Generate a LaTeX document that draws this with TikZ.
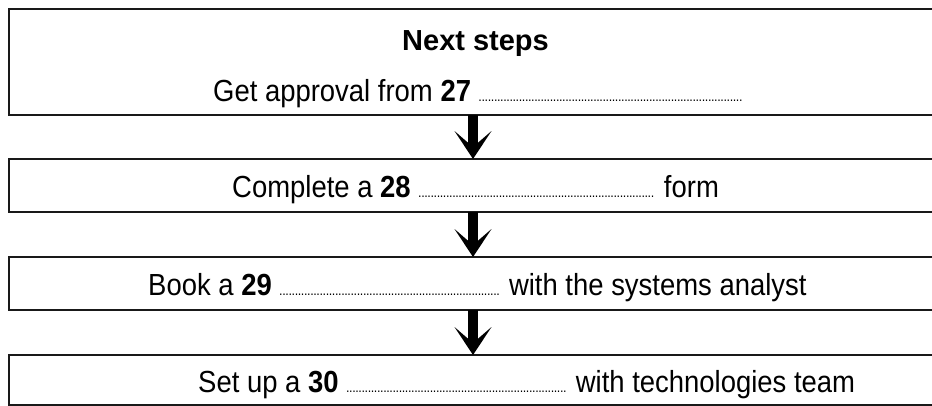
\documentclass[tikz,border=0pt]{standalone}
\usepackage{fontspec}
\setmainfont[FakeStretch=0.9]{Liberation Sans}
\newfontfamily\headfont{Liberation Sans}
\usetikzlibrary{arrows.meta}
\newcommand{\dotsline}[1]{\hbox to #1pt{\fontsize{14}{14}\selectfont\leaders\hbox to 3.1pt{\hss.\hss}\hfill}}
\begin{document}
\begin{tikzpicture}[x=1pt,y=-1pt,
  stepbox/.style={draw=black!90, line width=2pt, outer sep=0pt, inner sep=0pt, minimum width=945pt, anchor=north west},
  txt/.style={font=\fontsize{30.5}{34}\selectfont, inner sep=0pt, anchor=base west, text=black},
  flowarrow/.style={line width=10pt, black, -{Stealth[length=28pt, width=37pt, inset=16pt, line width=0pt]}}
  ]
\useasboundingbox (0,0) rectangle (932,405);
\fill[white] (0,0) rectangle (932,405);
\coordinate (ax) at (473,0);
% boxes
\node[stepbox, minimum height=106pt] (b1) at (9,9) {};
\node[stepbox, minimum height=53pt] (b2) at (9,159) {};
\node[stepbox, minimum height=53pt] (b3) at (9,257) {};
\node[stepbox, minimum height=50pt] (b4) at (9,355) {};
% texts
\node[txt, font=\headfont\fontsize{29}{34}\selectfont\bfseries] (h) at (402,50) {Next steps};
\node[txt] (t1) at (213,101) {Get approval from \textbf{27} \dotsline{266}};
\node[txt] (t2) at (232,197) {Complete a \textbf{28} \dotsline{238} form};
\node[txt] (t3) at (148,295) {Book a \textbf{29} \dotsline{222} with the systems analyst};
\node[txt] (t4) at (198,392) {Set up a \textbf{30} \dotsline{222} with technologies team};
% arrows
\draw[flowarrow] (b1.south -| ax) -- (b2.north -| ax);
\draw[flowarrow] (b2.south -| ax) -- (b3.north -| ax);
\draw[flowarrow] (b3.south -| ax) -- (b4.north -| ax);
\end{tikzpicture}
\end{document}
